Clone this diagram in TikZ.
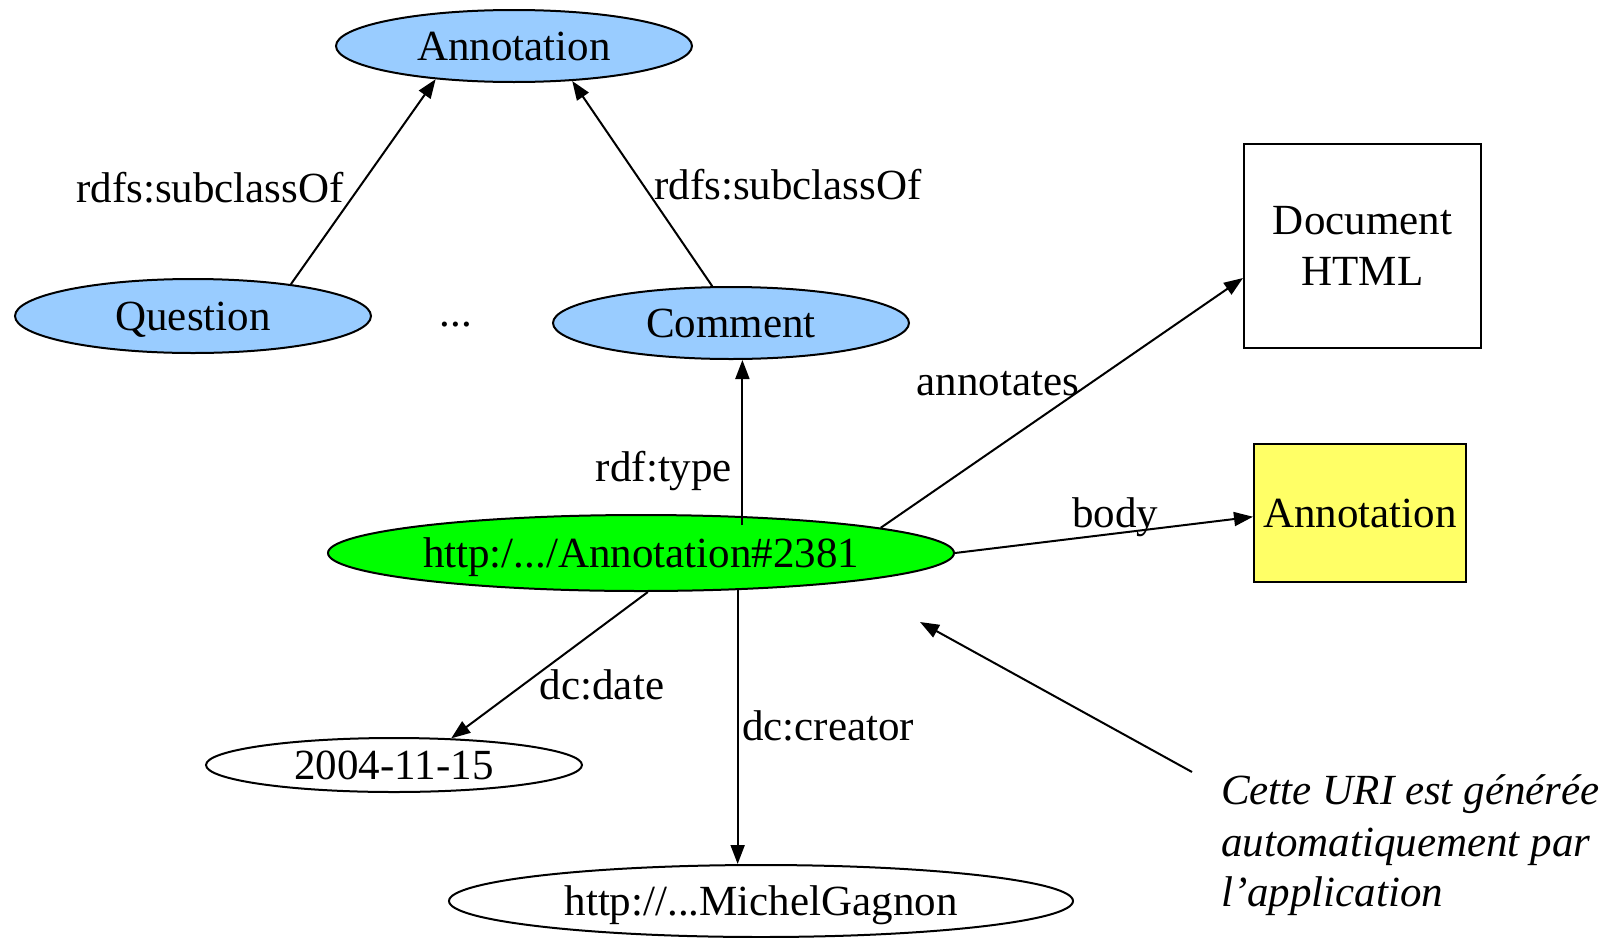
\documentclass[tikz,border=0pt]{standalone}
\usepackage{fontspec}
\setmainfont{Liberation Serif}
\usetikzlibrary{arrows.meta,shapes.geometric}
\definecolor{lblue}{RGB}{153,204,255}
\definecolor{ggreen}{RGB}{0,255,0}
\definecolor{yel}{RGB}{255,255,102}
\begin{document}
\begin{tikzpicture}[x=1pt,y=1pt,
  every node/.style={font=\fontsize{43}{51}\selectfont, inner sep=0pt},
  tx/.style={text height=38pt, text depth=9.5pt},
  ell/.style={ellipse, draw, line width=2pt, tx},
  boxn/.style={draw, line width=2pt},
  arr/.style={-{Triangle[length=19pt,width=14pt]}, line width=2pt}]
\fill[white] (0,0) rectangle (1608,-937);
\useasboundingbox (0,0) rectangle (1608,-937);
% nodes
\node[ell, fill=lblue, minimum width=356pt, minimum height=72pt] (ann) at (514,-46) {Annotation};
\node[ell, fill=lblue, minimum width=356pt, minimum height=74pt] (q) at (193,-316) {Question};
\node[ell, fill=lblue, minimum width=356pt, minimum height=72pt] (c) at (731,-323) {Comment};
\node[ell, fill=ggreen, minimum width=626pt, minimum height=76pt] (g) at (641,-553) {http:/.../Annotation\#2381};
\node[ell, text height=29pt, text depth=0pt, minimum width=376pt, minimum height=54pt] (dt) at (394,-765) {2004-11-15};
\node[ell, minimum width=624pt, minimum height=72pt] (m) at (761,-901) {http://...MichelGagnon};
\node[boxn, align=center, minimum width=237pt, minimum height=204pt] (d) at (1362.5,-246) {Document\\HTML};
\node[boxn, fill=yel, tx, minimum width=212pt, minimum height=138pt] (y) at (1360,-513) {Annotation};
\node[tx] (dots) at (456,-312) {...};
% connectors
\draw[arr] (q.18) -- (ann.203);
\draw[arr] (c.117) -- (ann.329);
\draw[arr, shorten <=-9pt] (g.20) -- (g.20 |- c.south);
\draw[arr] (g.6) -- (d.195);
\draw[arr] (g.east) -- (y.182);
\draw[arr] (g.-80) -- (dt.25);
\draw[arr] (g.-21) -- (g.-21 |- m.north);
\coordinate (ptail) at (1192,-772);
\coordinate (phead) at (920,-622);
\draw[arr] (ptail) -- (phead);
% labels
\node[tx] (l1) at (210,-188) {rdfs:subclassOf};
\node[tx] (l2) at (788,-185) {rdfs:subclassOf};
\node[tx] (l3) at (998,-381) {annotates};
\node[tx] (l4) at (664,-467) {rdf:type};
\node[tx] (l5) at (1115,-513) {body};
\node[tx] (l6) at (602,-685) {dc:date};
\node[tx] (l7) at (828,-726) {dc:creator};
\node[tx, anchor=west, font=\fontsize{43}{51}\selectfont\itshape] (n1) at (1221,-790) {Cette URI est générée};
\node[tx, anchor=west, font=\fontsize{43}{51}\selectfont\itshape] (n2) at (1221,-842) {automatiquement par};
\node[tx, anchor=west, font=\fontsize{43}{51}\selectfont\itshape] (n3) at (1221,-892) {l’application};
\end{tikzpicture}
\end{document}
